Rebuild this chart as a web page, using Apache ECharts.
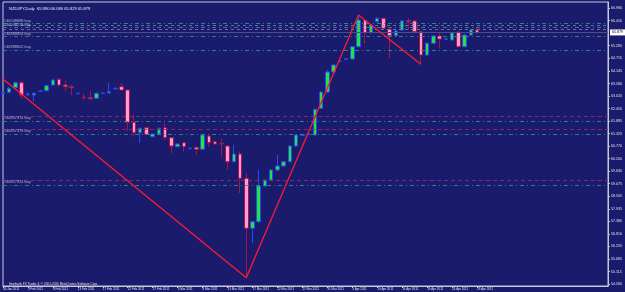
<!DOCTYPE html>
<html><head><meta charset="utf-8">
<script src="https://cdn.jsdelivr.net/npm/echarts@6/dist/echarts.min.js"></script>
<style>html,body{margin:0;padding:0;background:#1b1b6e;}#c{width:625px;height:292px;}</style>
</head><body><div id="c"></div>
<script>
const dates = ["30 Jan 2011","31 Jan 2011","1 Feb 2011","2 Feb 2011","3 Feb 2011","4 Feb 2011",
"6 Feb 2011","7 Feb 2011","8 Feb 2011","9 Feb 2011","10 Feb 2011","11 Feb 2011",
"13 Feb 2011","14 Feb 2011","15 Feb 2011","16 Feb 2011","17 Feb 2011","18 Feb 2011",
"20 Feb 2011","21 Feb 2011","22 Feb 2011","23 Feb 2011","24 Feb 2011","25 Feb 2011",
"27 Feb 2011","28 Feb 2011","1 Mar 2011","2 Mar 2011","3 Mar 2011","4 Mar 2011",
"6 Mar 2011","7 Mar 2011","8 Mar 2011","9 Mar 2011","10 Mar 2011","11 Mar 2011",
"13 Mar 2011","14 Mar 2011","15 Mar 2011","16 Mar 2011","17 Mar 2011","18 Mar 2011",
"20 Mar 2011","21 Mar 2011","22 Mar 2011","23 Mar 2011","24 Mar 2011","25 Mar 2011",
"27 Mar 2011","28 Mar 2011","29 Mar 2011","30 Mar 2011","31 Mar 2011","1 Apr 2011",
"3 Apr 2011","4 Apr 2011","5 Apr 2011","6 Apr 2011","7 Apr 2011","8 Apr 2011",
"10 Apr 2011","11 Apr 2011","12 Apr 2011","13 Apr 2011","14 Apr 2011","15 Apr 2011",
"17 Apr 2011","18 Apr 2011","19 Apr 2011","20 Apr 2011","21 Apr 2011","22 Apr 2011",
"24 Apr 2011","25 Apr 2011","26 Apr 2011","27 Apr 2011","28 Apr 2011"];

const opens = [63.133,63.187,63.394,63.619,63.088,63.065,63.223,63.259,63.515,63.772,
63.515,63.439,63.124,62.975,62.939,62.917,63.128,63.155,63.344,63.439,
63.290,61.837,61.369,61.594,61.189,61.310,61.594,61.144,60.739,60.919,
60.653,60.712,60.622,61.220,60.964,60.883,60.770,60.064,60.410,59.316,
57.066,57.364,58.970,59.240,59.690,59.870,60.064,60.770,61.251,61.283,
61.265,62.466,63.200,64.100,64.573,64.672,64.685,65.239,66.440,65.869,
66.364,66.517,66.022,65.734,65.990,66.409,66.395,65.914,64.865,65.392,
65.720,65.572,65.540,65.887,65.239,65.765,65.990];
const closes = [63.178,63.367,63.619,63.065,63.110,63.142,63.245,63.484,63.740,63.515,
63.439,63.394,63.142,62.944,62.894,63.142,63.146,63.214,63.367,63.290,
61.837,61.369,61.567,61.297,61.310,61.567,61.144,60.770,60.860,60.739,
60.676,60.622,61.265,60.919,60.860,60.860,60.064,60.410,59.316,57.066,
57.364,58.970,59.240,59.690,59.870,60.064,60.770,61.265,61.274,61.306,
62.421,63.200,64.100,64.415,64.595,64.694,65.239,66.440,65.869,66.215,
66.517,66.067,65.734,65.945,66.395,66.364,65.914,64.865,65.392,65.720,
65.585,65.594,65.869,65.239,65.765,65.990,65.879];
const lows = [63.088,63.155,63.358,62.872,63.020,62.764,63.200,63.223,63.470,63.412,
63.259,63.065,63.088,62.840,62.840,62.885,63.110,63.133,63.313,63.259,
61.459,61.189,60.905,61.265,61.153,61.288,61.040,60.455,60.703,60.514,
60.635,60.365,60.590,60.748,60.815,60.289,59.690,60.028,58.655,54.845,
56.405,57.305,58.925,59.195,59.645,59.825,60.028,60.725,61.220,61.265,
61.243,62.435,63.155,64.055,64.550,64.640,64.640,65.203,65.392,65.833,
66.328,66.035,64.717,65.698,65.945,65.990,65.842,64.447,64.820,65.360,
65.167,65.540,65.495,65.194,65.203,65.720,65.829];
const highs = [63.223,63.425,63.673,63.709,63.178,63.178,63.290,63.515,63.785,63.817,
63.709,63.515,63.178,63.142,63.259,63.178,63.200,63.605,63.403,63.605,
63.335,62.210,61.603,61.625,61.333,61.603,61.819,61.175,60.883,60.950,
60.703,60.748,61.310,61.265,61.018,61.116,60.815,60.815,60.514,59.555,
57.395,59.690,59.285,59.735,60.365,60.095,60.815,61.310,61.310,61.333,
62.457,63.245,64.190,64.460,64.640,64.730,65.270,66.665,66.485,66.260,
66.553,66.553,66.058,65.990,66.440,66.530,66.440,65.945,65.428,65.765,
65.914,65.630,65.900,65.945,65.810,66.035,66.086];

const yTicks = [54.560,55.115,55.685,56.255,56.810,57.380,57.935,58.505,59.075,59.630,
60.200,60.770,61.325,61.885,62.450,63.020,63.580,64.145,64.715,65.285,66.410,66.980];

const zigzagIdx = [0,39,57,67];
const zigzagVal = [63.785,54.845,66.665,64.447];

const entryLevels = [66.280,66.100,65.693,65.090,61.895,61.310,59.000];
const entryLabels = ["#46508888 buy","#46508728 buy","#46888854 buy","#46888802 buy",
"#46857474 buy","#46857478 buy","#46827924 buy"];
const grayLevels = [66.190,66.035];
const stopLevels = [62.089,61.522,59.240];

const lastPrice = 65.879;
const titleText = "NZDJPY,Daily  65.990 66.086 65.829 65.879";
const footerText = "Interbank FX Trader 4, \u00a9 2001-2010 MetaQuotes Software Corp.";

const TOTAL_SLOTS = 98;
const categories = dates.slice();
while (categories.length < TOTAL_SLOTS) categories.push('');

const ohlc = dates.map((d,i)=>[opens[i],closes[i],lows[i],highs[i]]);
const zz = zigzagIdx.map((x,i)=>[x, zigzagVal[i]]);

const FONT = 'Liberation Sans';
const mlData = [];
entryLevels.forEach((v,i)=>mlData.push({
  yAxis: v,
  lineStyle:{color:'#2b8f98', type:[4,3,1,3], width:1, opacity:0.85},
  label:{show:true, position:'insideStartTop', formatter: entryLabels[i], color:'#c4c8e0',
         fontSize:3.9, fontFamily:FONT, distance:[1,1]}
}));
grayLevels.forEach(v=>mlData.push({
  yAxis: v, lineStyle:{color:'#7d84a8', type:[3,3], width:1, opacity:0.8}, label:{show:false}
}));
stopLevels.forEach(v=>mlData.push({
  yAxis: v, lineStyle:{color:'#8a2a68', type:[4,3], width:1, opacity:0.9}, label:{show:false}
}));
mlData.push({
  yAxis: lastPrice,
  lineStyle:{color:'#4c4c8c', type:'solid', width:1},
  label:{show:true, position:'end', formatter: lastPrice.toFixed(3), color:'#000',
         backgroundColor:'#ffffff', fontSize:3.6, fontFamily:FONT, padding:[1,2,1,2], distance:2}
});

const chart = echarts.init(document.getElementById('c'), null, {renderer:'canvas'});
chart.setOption({
  animation:false,
  backgroundColor:'#1b1b6e',
  title:[
    {text:titleText, left:4, top:2, textStyle:{color:'#e8e8f0', fontSize:4.1, fontWeight:'normal', fontFamily:FONT}},
    {text:footerText, left:4, top:278, textStyle:{color:'#e0e0ea', fontSize:3.1, fontWeight:'normal', fontFamily:FONT}}
  ],
  grid:{left:2, right:15, top:2, bottom:6, show:true, borderColor:'#c8c8d8', borderWidth:1, backgroundColor:'transparent'},
  xAxis:{
    type:'category', data:categories, boundaryGap:false,
    axisLine:{show:true, lineStyle:{color:'#c8c8d8', width:1}},
    axisTick:{show:true, length:2, interval:(i)=>i%4===0 && i<dates.length, lineStyle:{color:'#c8c8d8'}},
    axisLabel:{show:true, interval:(i)=>i%4===0 && i<dates.length, align:'left', margin:1.5,
      color:'#e0e0ea', fontSize:3, fontFamily:FONT},
    splitLine:{show:false}
  },
  yAxis:{
    type:'value', position:'right', min:54.47, max:67.25, scale:true,
    axisLine:{show:true, lineStyle:{color:'#c8c8d8', width:1}},
    axisTick:{show:true, length:2, customValues:yTicks, lineStyle:{color:'#c8c8d8'}},
    axisLabel:{show:true, customValues:yTicks, formatter:(v)=>v.toFixed(3), margin:3,
      color:'#e0e0ea', fontSize:3.6, fontFamily:FONT},
    splitLine:{show:false}
  },
  series:[
    {
      type:'candlestick', data:ohlc, barWidth:4,
      itemStyle:{color:'#1ee63c', color0:'#ff9ad6', borderColor:'#2a48f0', borderColor0:'#a3164a', borderWidth:1},
      markLine:{symbol:['none','none'], silent:true, animation:false, data:mlData}
    },
    {
      type:'line', data:zz, symbol:'none', z:5,
      lineStyle:{color:'#ff1a30', width:1.3}
    }
  ]
});
</script></body></html>
